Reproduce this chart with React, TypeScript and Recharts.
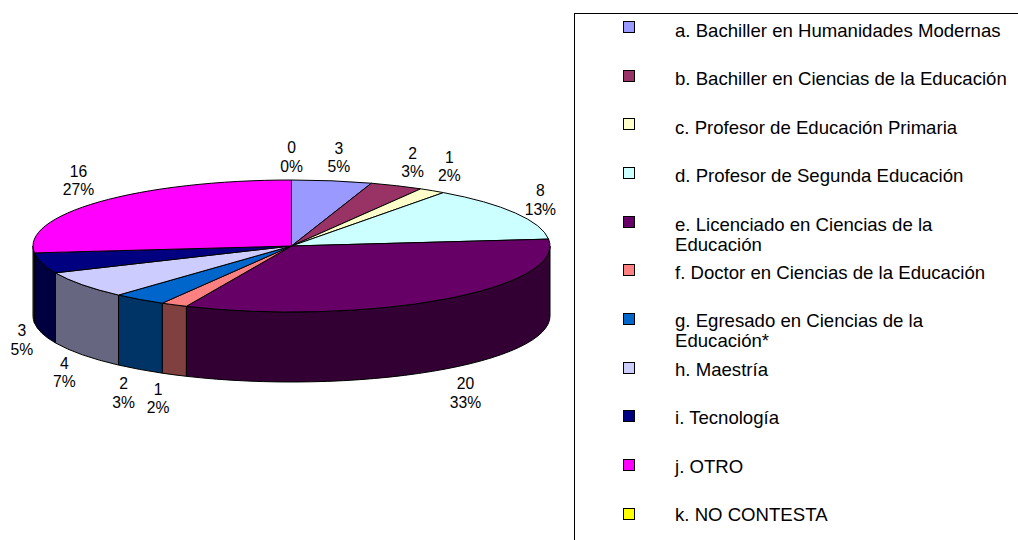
import React from "react";
import { PieChart, Pie, Cell, Legend } from "recharts";

const categories = [
  "a. Bachiller en Humanidades Modernas",
  "b. Bachiller en Ciencias de la Educación",
  "c. Profesor de Educación Primaria",
  "d. Profesor de Segunda Educación",
  "e. Licenciado en Ciencias de la Educación",
  "f. Doctor en Ciencias de la Educación",
  "g. Egresado en Ciencias de la Educación*",
  "h. Maestría",
  "i. Tecnología",
  "j. OTRO",
  "k. NO CONTESTA",
];
const counts = [3, 2, 1, 8, 20, 1, 2, 4, 3, 16, 0];
const sliceColors = [
  "#9999FF", "#993366", "#FFFFCC", "#CCFFFF", "#660066", "#FF8080",
  "#0066CC", "#CCCCFF", "#000080", "#FF00FF", "#FFFF00",
];

// Label displacement from the slice's rim point, slice by slice.
const labelNudges: [number, number][] = [
  [7, -23], [16, -23], [17, -24], [25, -13], [22, 24], [-16, 24],
  [-16, 24], [-18, 18], [-20, 7], [-21, -21], [0, -23],
];

const rows = categories.map((name, i) => ({ name, value: counts[i] }));

const FONT = '"Liberation Sans", Arial, sans-serif';
const CX = 291.5;
const CY = 246;
const RX = 258.5;
const RY = 66;
const DEPTH = 70;

const rim = (deg: number, cx: number, cy: number, rx: number) => {
  const t = (deg * Math.PI) / 180;
  return { x: cx + rx * Math.cos(t), y: cy - rx * (RY / RX) * Math.sin(t) };
};

// Side walls are the face colour at half brightness.
const shade = (hex: string) => {
  const n = parseInt(hex.slice(1), 16);
  const part = (v: number) => Math.round(v / 2).toString(16).padStart(2, "0");
  return `#${part((n >> 16) & 255)}${part((n >> 8) & 255)}${part(n & 255)}`;
};

// One slice of the tilted disc: elliptical top face and, on the near half, its wall.
const TiltedSlice = (props: any) => {
  const { cx, cy, outerRadius, startAngle, endAngle, fill } = props;
  const ry = outerRadius * (RY / RX);
  const a = rim(startAngle, cx, cy, outerRadius);
  const b = rim(endAngle, cx, cy, outerRadius);
  const large = startAngle - endAngle > 180 ? 1 : 0;
  const top = `M${cx},${cy}L${a.x},${a.y}A${outerRadius},${ry} 0 ${large} 1 ${b.x},${b.y}Z`;

  const from = Math.min(startAngle, 0);
  const to = Math.max(endAngle, -180);
  let wall = null;
  if (from > to) {
    const p = rim(from, cx, cy, outerRadius);
    const q = rim(to, cx, cy, outerRadius);
    const d =
      `M${p.x},${p.y}A${outerRadius},${ry} 0 0 1 ${q.x},${q.y}` +
      `L${q.x},${q.y + DEPTH}A${outerRadius},${ry} 0 0 0 ${p.x},${p.y + DEPTH}Z`;
    wall = <path d={d} fill={shade(fill)} stroke="#000" strokeWidth={1} strokeLinejoin="round" />;
  }
  return (
    <g>
      {wall}
      {endAngle !== startAngle && (
        <path d={top} fill={fill} stroke="#000" strokeWidth={1} strokeLinejoin="round" />
      )}
    </g>
  );
};

const SliceLabel = (props: any) => {
  const { cx, cy, outerRadius, midAngle, value, percent, index } = props;
  const p = rim(midAngle, cx, cy, outerRadius);
  const near = Math.sin((midAngle * Math.PI) / 180) < 0;
  const x = p.x + labelNudges[index][0];
  const y = p.y + (near ? DEPTH : 0) + labelNudges[index][1];
  return (
    <text x={x} textAnchor="middle" fontFamily={FONT} fontSize={15.7} fill="#000">
      <tspan x={x} y={y - 4}>{value}</tspan>
      <tspan x={x} y={y + 14.5}>{`${Math.round(percent * 100)}%`}</tspan>
    </text>
  );
};

const LegendBox = ({ payload }: any) => (
  <div
    style={{
      position: "relative",
      width: 444,
      height: 527,
      boxSizing: "border-box",
      borderLeft: "1px solid #000",
      borderTop: "1px solid #000",
      fontFamily: FONT,
      fontSize: 18.6,
      lineHeight: "20px",
      color: "#000",
    }}
  >
    {(payload ?? []).map((item: any, i: number) => (
      <React.Fragment key={item.value}>
        <span
          style={{
            position: "absolute",
            left: 48,
            top: 7 + i * 48.65,
            width: 12,
            height: 12,
            boxSizing: "border-box",
            border: "1px solid #000",
            background: item.color,
          }}
        />
        <div style={{ position: "absolute", left: 100, top: 7 + i * 48.4, width: 340 }}>{item.value}</div>
      </React.Fragment>
    ))}
  </div>
);

export default function App() {
  return (
    <div style={{ position: "absolute", left: 0, top: 0 }}>
      <PieChart width={1018} height={540} margin={{ top: 0, right: 0, bottom: 0, left: 0 }}>
        <Pie
          data={rows}
          dataKey="value"
          nameKey="name"
          cx={CX}
          cy={CY}
          outerRadius={RX}
          startAngle={90}
          endAngle={-270}
          paddingAngle={0}
          isAnimationActive={false}
          shape={TiltedSlice}
          label={SliceLabel}
          labelLine={false}
        >
          {rows.map((r, i) => (
            <Cell key={r.name} fill={sliceColors[i]} />
          ))}
        </Pie>
        <Legend
          content={LegendBox}
          wrapperStyle={{ position: "absolute", left: 574, top: 13, width: 444, height: 527 }}
        />
      </PieChart>
    </div>
  );
}
